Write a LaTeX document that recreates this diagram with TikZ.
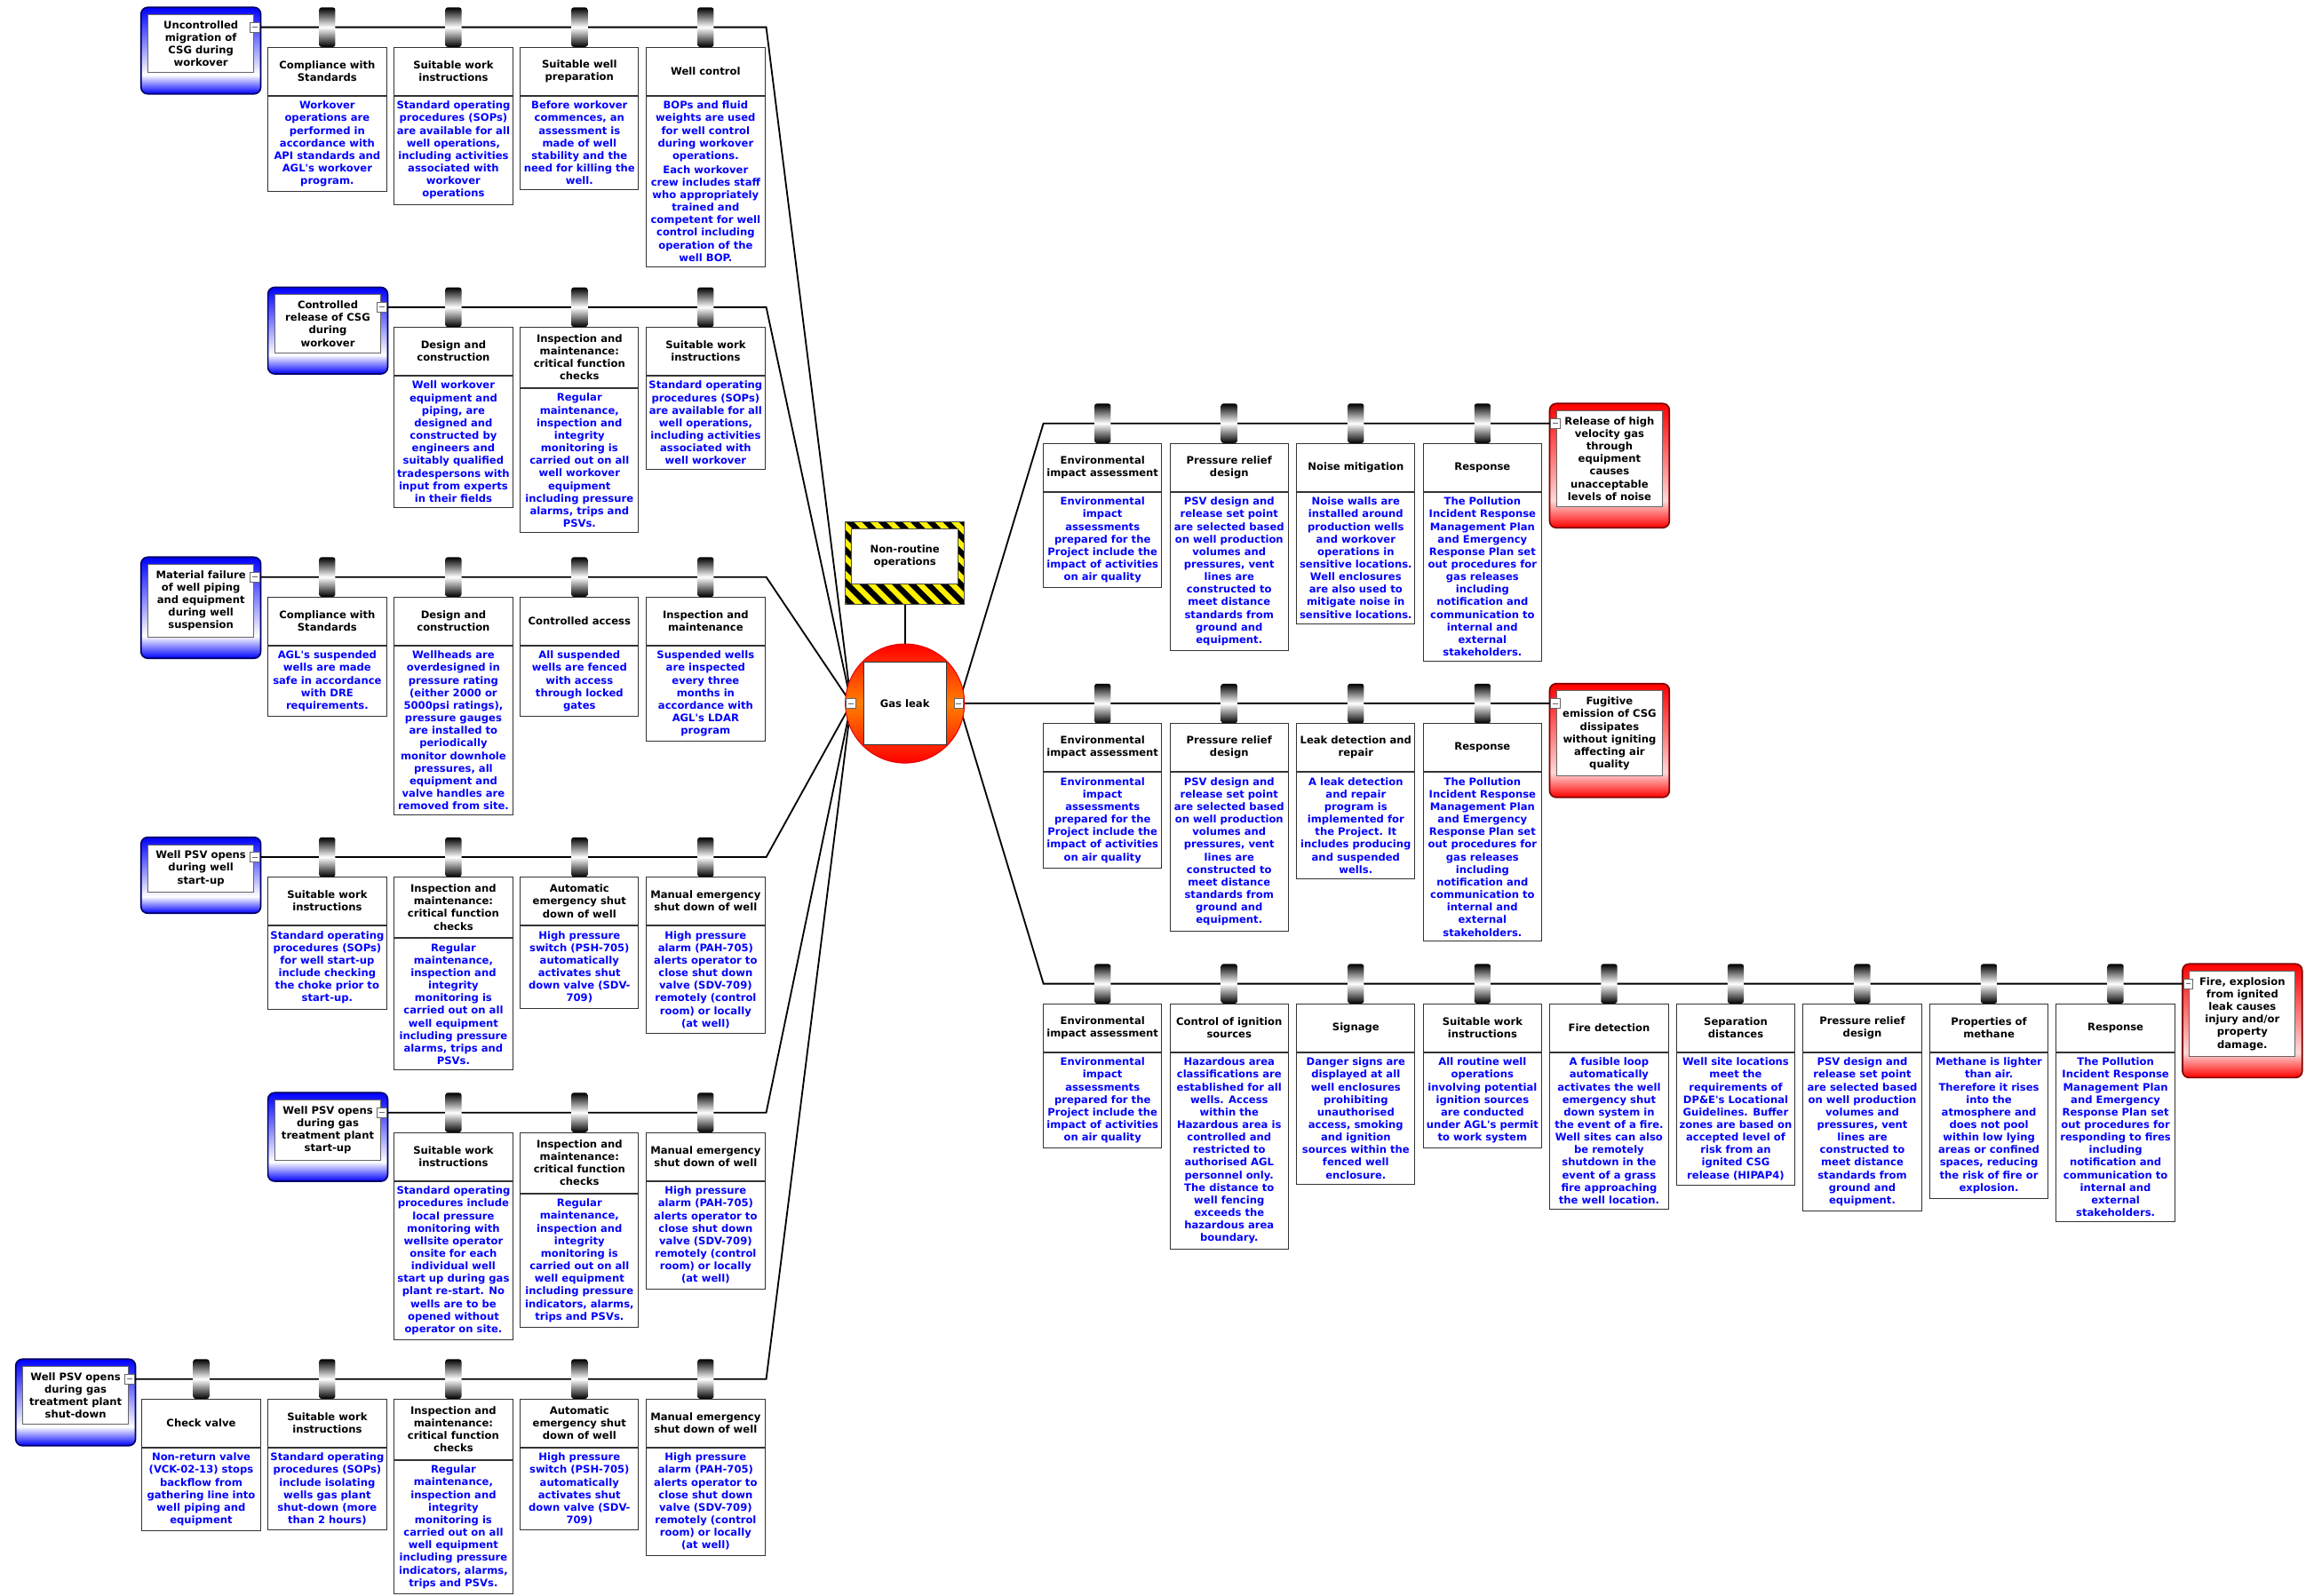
\documentclass[tikz,border=0pt]{standalone}
\usepackage{fontspec}
\setmainfont{DejaVu Sans}
\usetikzlibrary{calc,backgrounds}

% frame shadings for threats and consequences
\pgfdeclareverticalshading{threatshade}{100bp}{color(0bp)=(blue);color(25bp)=(blue);color(36bp)=(white);color(75bp)=(blue);color(100bp)=(blue)}
\pgfdeclareverticalshading{conseqshade}{100bp}{color(0bp)=(red);color(25bp)=(red);color(36bp)=(white!85!red);color(75bp)=(red);color(100bp)=(red)}

\newcommand{\ap}{\textquotesingle}
% barrier: tab on the line, title box, description box
\newcommand{\barrier}[5]{%
  \node[bartitle] (#1t) at (#2,#3+13.3) {#4};
  \node[bardesc] (#1d) at (#1t.south) {#5};
  \node[bartab] (#1) at (#2,#3) {};
}
% threat: left edge #2, line height #3
\newcommand{\threat}[4]{%
  \node[eventin] (#1) at (#2+40.4,#3-8.8) {#4};
  \begin{scope}[on background layer]
    \path[threatout] ($(#1.north west)+(-4.5,-4.7)$) rectangle ($(#1.south east)+(4.5,14.1)$);
  \end{scope}
  \node[minusbox] (#1m) at (#2+77.2,#3) {};
}
% consequence: left edge #2, line height #3
\newcommand{\conseq}[4]{%
  \node[eventin] (#1) at (#2+40.4,#3-8.8) {#4};
  \begin{scope}[on background layer]
    \path[conseqout] ($(#1.north west)+(-4.5,-4.7)$) rectangle ($(#1.south east)+(4.5,14.1)$);
  \end{scope}
  \node[minusbox] (#1m) at (#2+3.6,#3) {};
}

\begin{document}
\begin{tikzpicture}[x=1pt,y=-1pt,
  font=\fontsize{7}{8.55}\selectfont\bfseries,
  line/.style={draw=black,line width=1.1pt},
  bartab/.style={minimum width=11pt,minimum height=26.8pt,inner sep=0pt,rounded corners=1.5pt,
    top color=black,bottom color=black,middle color=white},
  bartitle/.style={anchor=north,draw=black!80,line width=0.6pt,fill=white,align=center,
    minimum width=80.5pt,minimum height=32.6pt,inner xsep=1pt,inner ysep=5pt},
  bardesc/.style={anchor=north,draw=black!80,line width=0.6pt,fill=white,text=blue,align=center,
    minimum width=80.5pt,inner xsep=1pt,inner ysep=3.5pt},
  eventin/.style={anchor=north,draw=black!60,line width=0.6pt,fill=white,align=center,
    minimum width=71.8pt,inner xsep=1pt,inner ysep=4.2pt},
  threatout/.style={draw=blue!40!black,line width=1pt,rounded corners=4.5pt,shading=threatshade},
  conseqout/.style={draw=red!50!black,line width=1pt,rounded corners=4.5pt,shading=conseqshade},
  minusbox/.style={draw=black!60,fill=white,minimum size=6.5pt,inner sep=0pt,line width=0.5pt,
    path picture={\draw[line width=0.5pt] ([xshift=1.5pt]path picture bounding box.west) -- ([xshift=-1.5pt]path picture bounding box.east);}},
  hazard/.style={draw=black!70,line width=0.6pt,fill=yellow,minimum width=81pt,minimum height=56.5pt,inner sep=0pt,
    path picture={\foreach \k in {-6,...,8} \fill[black] ($(path picture bounding box.north west)+(\k*11,0)$) -- ++(5.5,0) -- ++(58,58) -- ++(-5.5,0) -- cycle;}},
  topevent/.style={circle,draw=red!90!black,line width=0.6pt,minimum size=81pt,inner sep=0pt,
    top color=red,bottom color=red,middle color=orange}]
\useasboundingbox (0,0) rectangle (1568,1085);

% hazard and top event
\node[hazard] (hz) at (615.3,383) {};
\node[eventin,anchor=center,minimum width=72.2pt,minimum height=37.6pt,draw=black!70] (hzt) at (615.3,378.2) {Non-routine\\operations};
\node[topevent] (te) at (615.3,478.4) {};
\node[draw=black!80,fill=white,minimum size=56.4pt] (tebox) at (te) {Gas leak};
\node[minusbox] (tel) at (578.8,478.4) {};
\node[minusbox] (ter) at (651.9,478.4) {};

% threat 1
\threat{t1}{96.2}{18.5}{Uncontrolled\\migration of\\CSG during\\workover}
\barrier{t1b}{222.5}{18.5}{Compliance with\\Standards}{Workover\\operations are\\performed in\\accordance with\\API standards and\\AGL\ap s workover\\program.}
\barrier{t1c}{308.3}{18.5}{Suitable work\\instructions}{Standard operating\\procedures (SOPs)\\are available for all\\well operations,\\including activities\\associated with\\workover\\operations}
\barrier{t1d}{394}{18.5}{Suitable well\\preparation}{Before workover\\commences, an\\assessment is\\made of well\\stability and the\\need for killing the\\well.}
\barrier{t1e}{479.8}{18.5}{Well control}{BOPs and fluid\\weights are used\\for well control\\during workover\\operations.\\[1pt]Each workover\\crew includes staff\\who appropriately\\trained and\\competent for well\\control including\\operation of the\\well BOP.}

% threat 2
\threat{t2}{182.5}{208.9}{Controlled\\release of CSG\\during\\workover}
\barrier{t2c}{308.3}{208.9}{Design and\\construction}{Well workover\\equipment and\\piping, are\\designed and\\constructed by\\engineers and\\suitably qualified\\tradespersons with\\input from experts\\in their fields}
\barrier{t2d}{394}{208.9}{Inspection and\\maintenance:\\critical function\\checks}{Regular\\maintenance,\\inspection and\\integrity\\monitoring is\\carried out on all\\well workover\\equipment\\including pressure\\alarms, trips and\\PSVs.}
\barrier{t2e}{479.8}{208.9}{Suitable work\\instructions}{Standard operating\\procedures (SOPs)\\are available for all\\well operations,\\including activities\\associated with\\well workover}

% threat 3
\threat{t3}{96.2}{392.4}{Material failure\\of well piping\\and equipment\\during well\\suspension}
\barrier{t3b}{222.5}{392.4}{Compliance with\\Standards}{AGL\ap s suspended\\wells are made\\safe in accordance\\with DRE\\requirements.}
\barrier{t3c}{308.3}{392.4}{Design and\\construction}{Wellheads are\\overdesigned in\\pressure rating\\(either 2000 or\\5000psi ratings),\\pressure gauges\\are installed to\\periodically\\monitor downhole\\pressures, all\\equipment and\\valve handles are\\removed from site.}
\barrier{t3d}{394}{392.4}{Controlled access}{All suspended\\wells are fenced\\with access\\through locked\\gates}
\barrier{t3e}{479.8}{392.4}{Inspection and\\maintenance}{Suspended wells\\are inspected\\every three\\months in\\accordance with\\AGL\ap s LDAR\\program}

% threat 4
\threat{t4}{96.2}{582.9}{Well PSV opens\\during well\\start-up}
\barrier{t4b}{222.5}{582.9}{Suitable work\\instructions}{Standard operating\\procedures (SOPs)\\for well start-up\\include checking\\the choke prior to\\start-up.}
\barrier{t4c}{308.3}{582.9}{Inspection and\\maintenance:\\critical function\\checks}{Regular\\maintenance,\\inspection and\\integrity\\monitoring is\\carried out on all\\well equipment\\including pressure\\alarms, trips and\\PSVs.}
\barrier{t4d}{394}{582.9}{Automatic\\emergency shut\\down of well}{High pressure\\switch (PSH-705)\\automatically\\activates shut\\down valve (SDV-\\709)}
\barrier{t4e}{479.8}{582.9}{Manual emergency\\shut down of well}{High pressure\\alarm (PAH-705)\\alerts operator to\\close shut down\\valve (SDV-709)\\remotely (control\\room) or locally\\(at well)}

% threat 5
\threat{t5}{182.5}{756.6}{Well PSV opens\\during gas\\treatment plant\\start-up}
\barrier{t5c}{308.3}{756.6}{Suitable work\\instructions}{Standard operating\\procedures include\\local pressure\\monitoring with\\wellsite operator\\onsite for each\\individual well\\start up during gas\\plant re-start. No\\wells are to be\\opened without\\operator on site.}
\barrier{t5d}{394}{756.6}{Inspection and\\maintenance:\\critical function\\checks}{Regular\\maintenance,\\inspection and\\integrity\\monitoring is\\carried out on all\\well equipment\\including pressure\\indicators, alarms,\\trips and PSVs.}
\barrier{t5e}{479.8}{756.6}{Manual emergency\\shut down of well}{High pressure\\alarm (PAH-705)\\alerts operator to\\close shut down\\valve (SDV-709)\\remotely (control\\room) or locally\\(at well)}

% threat 6
\threat{t6}{11}{937.8}{Well PSV opens\\during gas\\treatment plant\\shut-down}
\barrier{t6a}{136.8}{937.8}{Check valve}{Non-return valve\\(VCK-02-13) stops\\backflow from\\gathering line into\\well piping and\\equipment}
\barrier{t6b}{222.5}{937.8}{Suitable work\\instructions}{Standard operating\\procedures (SOPs)\\include isolating\\wells gas plant\\shut-down (more\\than 2 hours)}
\barrier{t6c}{308.3}{937.8}{Inspection and\\maintenance:\\critical function\\checks}{Regular\\maintenance,\\inspection and\\integrity\\monitoring is\\carried out on all\\well equipment\\including pressure\\indicators, alarms,\\trips and PSVs.}
\barrier{t6d}{394}{937.8}{Automatic\\emergency shut\\down of well}{High pressure\\switch (PSH-705)\\automatically\\activates shut\\down valve (SDV-\\709)}
\barrier{t6e}{479.8}{937.8}{Manual emergency\\shut down of well}{High pressure\\alarm (PAH-705)\\alerts operator to\\close shut down\\valve (SDV-709)\\remotely (control\\room) or locally\\(at well)}

% consequence 1
\conseq{c1}{1054}{287.9}{Release of high\\velocity gas\\through\\equipment\\causes\\unacceptable\\levels of noise}
\barrier{c1a}{749.7}{287.9}{Environmental\\impact assessment}{Environmental\\impact\\assessments\\prepared for the\\Project include the\\impact of activities\\on air quality}
\barrier{c1b}{835.8}{287.9}{Pressure relief\\design}{PSV design and\\release set point\\are selected based\\on well production\\volumes and\\pressures, vent\\lines are\\constructed to\\meet distance\\standards from\\ground and\\equipment.}
\barrier{c1c}{921.9}{287.9}{Noise mitigation}{Noise walls are\\installed around\\production wells\\and workover\\operations in\\sensitive locations.\\Well enclosures\\are also used to\\mitigate noise in\\sensitive locations.}
\barrier{c1d}{1008}{287.9}{Response}{The Pollution\\Incident Response\\Management Plan\\and Emergency\\Response Plan set\\out procedures for\\gas releases\\including\\notification and\\communication to\\internal and\\external\\stakeholders.}

% consequence 2
\conseq{c2}{1054}{478.4}{Fugitive\\emission of CSG\\dissipates\\without igniting\\affecting air\\quality}
\barrier{c2a}{749.7}{478.4}{Environmental\\impact assessment}{Environmental\\impact\\assessments\\prepared for the\\Project include the\\impact of activities\\on air quality}
\barrier{c2b}{835.8}{478.4}{Pressure relief\\design}{PSV design and\\release set point\\are selected based\\on well production\\volumes and\\pressures, vent\\lines are\\constructed to\\meet distance\\standards from\\ground and\\equipment.}
\barrier{c2c}{921.9}{478.4}{Leak detection and\\repair}{A leak detection\\and repair\\program is\\implemented for\\the Project. It\\includes producing\\and suspended\\wells.}
\barrier{c2d}{1008}{478.4}{Response}{The Pollution\\Incident Response\\Management Plan\\and Emergency\\Response Plan set\\out procedures for\\gas releases\\including\\notification and\\communication to\\internal and\\external\\stakeholders.}

% consequence 3
\conseq{c3}{1484.3}{669}{Fire, explosion\\from ignited\\leak causes\\injury and/or\\property\\damage.}
\barrier{c3a}{749.7}{669}{Environmental\\impact assessment}{Environmental\\impact\\assessments\\prepared for the\\Project include the\\impact of activities\\on air quality}
\barrier{c3b}{835.8}{669}{Control of ignition\\sources}{Hazardous area\\classifications are\\established for all\\wells. Access\\within the\\Hazardous area is\\controlled and\\restricted to\\authorised AGL\\personnel only.\\The distance to\\well fencing\\exceeds the\\hazardous area\\boundary.}
\barrier{c3c}{921.9}{669}{Signage}{Danger signs are\\displayed at all\\well enclosures\\prohibiting\\unauthorised\\access, smoking\\and ignition\\sources within the\\fenced well\\enclosure.}
\barrier{c3d}{1008}{669}{Suitable work\\instructions}{All routine well\\operations\\involving potential\\ignition sources\\are conducted\\under AGL\ap s permit\\to work system}
\barrier{c3e}{1094.1}{669}{Fire detection}{A fusible loop\\automatically\\activates the well\\emergency shut\\down system in\\the event of a fire.\\Well sites can also\\be remotely\\shutdown in the\\event of a grass\\fire approaching\\the well location.}
\barrier{c3f}{1180.2}{669}{Separation\\distances}{Well site locations\\meet the\\requirements of\\DP\&E\ap s Locational\\Guidelines. Buffer\\zones are based on\\accepted level of\\risk from an\\ignited CSG\\release (HIPAP4)}
\barrier{c3g}{1266.3}{669}{Pressure relief\\design}{PSV design and\\release set point\\are selected based\\on well production\\volumes and\\pressures, vent\\lines are\\constructed to\\meet distance\\standards from\\ground and\\equipment.}
\barrier{c3h}{1352.4}{669}{Properties of\\methane}{Methane is lighter\\than air.\\Therefore it rises\\into the\\atmosphere and\\does not pool\\within low lying\\areas or confined\\spaces, reducing\\the risk of fire or\\explosion.}
\barrier{c3i}{1438.5}{669}{Response}{The Pollution\\Incident Response\\Management Plan\\and Emergency\\Response Plan set\\out procedures for\\responding to fires\\including\\notification and\\communication to\\internal and\\external\\stakeholders.}

% connectors
\begin{scope}[on background layer]
\draw[line] (hz) -- (te);
\draw[line] (t1m) -- (521,18.5) -- (tel);
\draw[line] (t2m) -- (521,208.9) -- (tel);
\draw[line] (t3m) -- (521,392.4) -- (tel);
\draw[line] (t4m) -- (521,582.9) -- (tel);
\draw[line] (t5m) -- (521,756.6) -- (tel);
\draw[line] (t6m) -- (521,937.8) -- (tel);
\draw[line] (ter) -- (709.5,287.9) -- (c1m);
\draw[line] (ter) -- (c2m);
\draw[line] (ter) -- (709.5,669) -- (c3m);
\end{scope}
\end{tikzpicture}
\end{document}
